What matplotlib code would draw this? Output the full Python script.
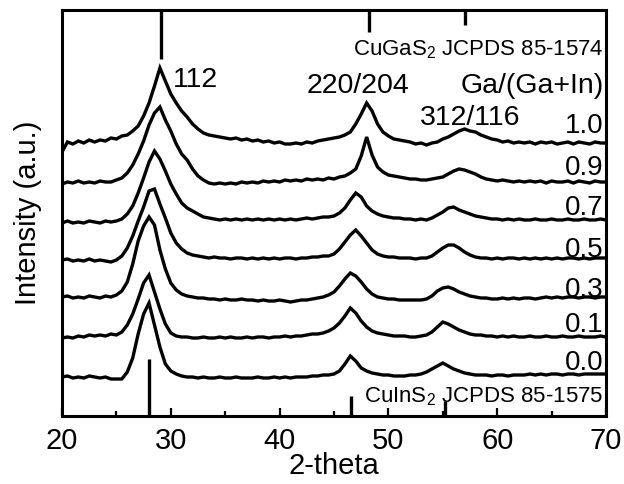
import numpy as np
import matplotlib
matplotlib.use("Agg")
import matplotlib.pyplot as plt

plt.rcParams['font.family'] = ['Liberation Sans', 'DejaVu Sans']
plt.rcParams['mathtext.fontset'] = 'custom'
plt.rcParams['mathtext.rm'] = 'Liberation Sans'
plt.rcParams['mathtext.it'] = 'Liberation Sans:italic'

# ---- data ----
two_theta = np.linspace(20, 70, 101)

ga_10 = [264, 274, 272, 275, 273, 276, 274, 276, 275, 278,
         277, 280, 281, 285, 290, 300, 313, 330, 348, 335,
         322, 313, 305, 299, 292, 287, 283, 281, 280, 279,
         278, 277, 278, 276, 277, 275, 276, 274, 275, 273,
         274, 272, 272, 273, 272, 274, 273, 275, 276, 277,
         278, 279, 281, 284, 292, 302, 313, 305, 292, 284,
         280, 277, 276, 275, 274, 272, 273, 271, 273, 274,
         277, 279, 282, 285, 287, 285, 284, 281, 279, 277,
         276, 274, 275, 273, 274, 273, 274, 272, 274, 273,
         274, 272, 273, 274, 272, 274, 273, 272, 274, 273,
         273]
ga_09 = [232, 234, 233, 235, 233, 234, 233, 235, 234, 234,
         236, 238, 243, 251, 262, 275, 291, 303, 309, 296,
         285, 272, 262, 256, 247, 240, 236, 233, 232, 233,
         232, 233, 232, 234, 233, 234, 233, 235, 234, 235,
         234, 236, 235, 236, 235, 237, 236, 237, 236, 238,
         237, 239, 240, 243, 247, 260, 279, 261, 249, 244,
         241, 240, 239, 238, 237, 237, 236, 236, 237, 238,
         239, 242, 245, 247, 246, 244, 242, 239, 237, 236,
         235, 236, 235, 234, 235, 234, 235, 234, 235, 233,
         235, 234, 234, 235, 233, 235, 234, 233, 235, 234,
         234]
ga_07 = [193, 195, 193, 194, 193, 195, 194, 193, 195, 194,
         195, 197, 202, 210, 223, 238, 254, 265, 257, 245,
         232, 222, 213, 208, 205, 202, 199, 198, 197, 196,
         197, 196, 197, 196, 197, 196, 197, 196, 197, 196,
         197, 196, 197, 196, 197, 198, 197, 198, 199, 199,
         200, 203, 208, 216, 223, 219, 210, 205, 202, 200,
         199, 198, 198, 197, 197, 196, 197, 196, 198, 201,
         204, 208, 209, 206, 204, 202, 200, 199, 198, 197,
         197, 196, 197, 196, 197, 196, 196, 197, 196, 196,
         197, 196, 196, 197, 196, 196, 197, 196, 196, 197,
         196]
ga_05 = [156, 157, 155, 156, 155, 157, 155, 156, 155, 154,
         156, 160, 168, 180, 195, 209, 225, 227, 212, 198,
         183, 173, 167, 163, 161, 160, 159, 158, 159, 158,
         158, 157, 158, 158, 157, 158, 157, 158, 157, 158,
         157, 158, 158, 157, 158, 158, 159, 159, 160, 160,
         162, 167, 174, 181, 186, 180, 173, 166, 162, 160,
         159, 159, 158, 158, 158, 157, 158, 158, 160, 164,
         168, 171, 171, 168, 164, 161, 159, 158, 158, 157,
         158, 157, 158, 158, 157, 158, 157, 158, 157, 158,
         157, 158, 157, 158, 158, 157, 158, 157, 158, 158,
         158]
ga_03 = [119, 120, 118, 119, 118, 120, 119, 118, 120, 119,
         121, 125, 134, 152, 175, 190, 199, 191, 166, 147,
         133, 126, 122, 120, 119, 118, 118, 117, 117, 116,
         117, 116, 116, 117, 116, 116, 115, 116, 115, 115,
         116, 115, 114, 115, 116, 116, 117, 118, 119, 121,
         124, 130, 137, 143, 140, 134, 127, 122, 119, 118,
         117, 117, 116, 116, 116, 116, 116, 117, 120, 125,
         128, 129, 127, 124, 122, 120, 119, 118, 118, 117,
         117, 118, 117, 118, 117, 118, 118, 117, 118, 119,
         118, 119, 118, 119, 119, 118, 119, 119, 118, 119,
         119]
ga_01 = [78, 79, 78, 80, 79, 81, 80, 81, 80, 82,
         81, 84, 91, 102, 117, 133, 141, 124, 107, 92,
         83, 80, 79, 79, 78, 78, 79, 78, 78, 79,
         78, 79, 78, 78, 79, 78, 79, 79, 78, 79,
         79, 80, 79, 80, 80, 81, 82, 82, 83, 85,
         88, 93, 100, 108, 103, 95, 89, 85, 83, 82,
         81, 80, 80, 80, 79, 79, 80, 81, 84, 89,
         94, 92, 89, 86, 84, 82, 81, 81, 80, 80,
         79, 80, 79, 80, 79, 79, 80, 79, 79, 80,
         79, 79, 80, 79, 79, 80, 79, 79, 79, 80,
         79]
ga_00 = [39, 40, 38, 39, 38, 40, 39, 38, 39, 37,
         37, 37, 44, 58, 82, 102, 113, 91, 69, 52,
         45, 42, 40, 39, 39, 38, 39, 38, 38, 39,
         38, 38, 39, 38, 38, 38, 39, 38, 38, 39,
         38, 39, 38, 39, 39, 39, 40, 40, 41, 41,
         42, 45, 52, 60, 55, 48, 45, 43, 42, 41,
         41, 40, 40, 40, 41, 41, 42, 44, 47, 50,
         53, 50, 47, 45, 43, 42, 41, 41, 41, 40,
         41, 41, 40, 41, 41, 41, 42, 41, 42, 41,
         42, 42, 41, 42, 42, 41, 42, 42, 42, 42,
         42]

series = [ga_10, ga_09, ga_07, ga_05, ga_03, ga_01, ga_00]
series_labels = ['1.0', '0.9', '0.7', '0.5', '0.3', '0.1', '0.0']
label_levels = [283, 241, 201, 159, 119, 84, 46]

# JCPDS reference lines
cugas2_pos = [29.1, 48.2, 57.0]
cugas2_len = [49, 22, 15]
cuins2_pos = [28.0, 46.6, 55.2]
cuins2_len = [57, 20, 15]

peak_labels = ['112', '220/204', '312/116']
peak_label_x = [30.2, 42.5, 52.9]
peak_label_y = [329, 323, 291]

YTOP = 406

# ---- figure ----
fig = plt.figure(figsize=(6.24, 4.84), dpi=100)
ax = fig.add_axes([62/624, (484-416)/484, 544/624, 406/484])

for ys in series:
    ax.plot(two_theta, ys, color='black', lw=2.4, solid_joinstyle='miter')

ax.vlines(cugas2_pos, [YTOP - l for l in cugas2_len], YTOP, color='black', lw=2.4)
ax.vlines(cuins2_pos, 0, cuins2_len, color='black', lw=2.4)

ax.set_xlim(20, 70)
ax.set_ylim(0, YTOP)

for lab, lv in zip(series_labels, label_levels):
    ax.text(69.8, lv, lab, ha='right', va='baseline', fontsize=20)

ax.text(69.8, 323, 'Ga/(Ga+In)', ha='right', va='baseline', fontsize=20.5)
for lab, px, py in zip(peak_labels, peak_label_x, peak_label_y):
    ax.text(px, py, lab, ha='left', va='baseline', fontsize=20.5)

ax.text(69.75, 361, 'CuGaS$_2$ JCPDS 85-1574', ha='right', va='baseline', fontsize=16)
ax.text(69.75, 14, 'CuInS$_2$ JCPDS 85-1575', ha='right', va='baseline', fontsize=16)

ax.set_xticks([20, 30, 40, 50, 60, 70])
ax.set_xticks([25, 35, 45, 55, 65], minor=True)
ax.set_yticks([])
ax.tick_params(axis='x', which='major', direction='in', length=6, width=1.6,
               labelsize=21, pad=8, top=False)
ax.tick_params(axis='x', which='minor', direction='in', length=3.3, width=1.6, top=False)

for sp in ax.spines.values():
    sp.set_linewidth(2.2)

ax.set_xlabel('2-theta', fontsize=21)
ax.set_ylabel('Intensity (a.u.)', fontsize=21)
ax.xaxis.set_label_coords(0.5, -0.088)
ax.yaxis.set_label_coords(-0.037, 0.5)

fig.savefig('out.png', dpi=100)
